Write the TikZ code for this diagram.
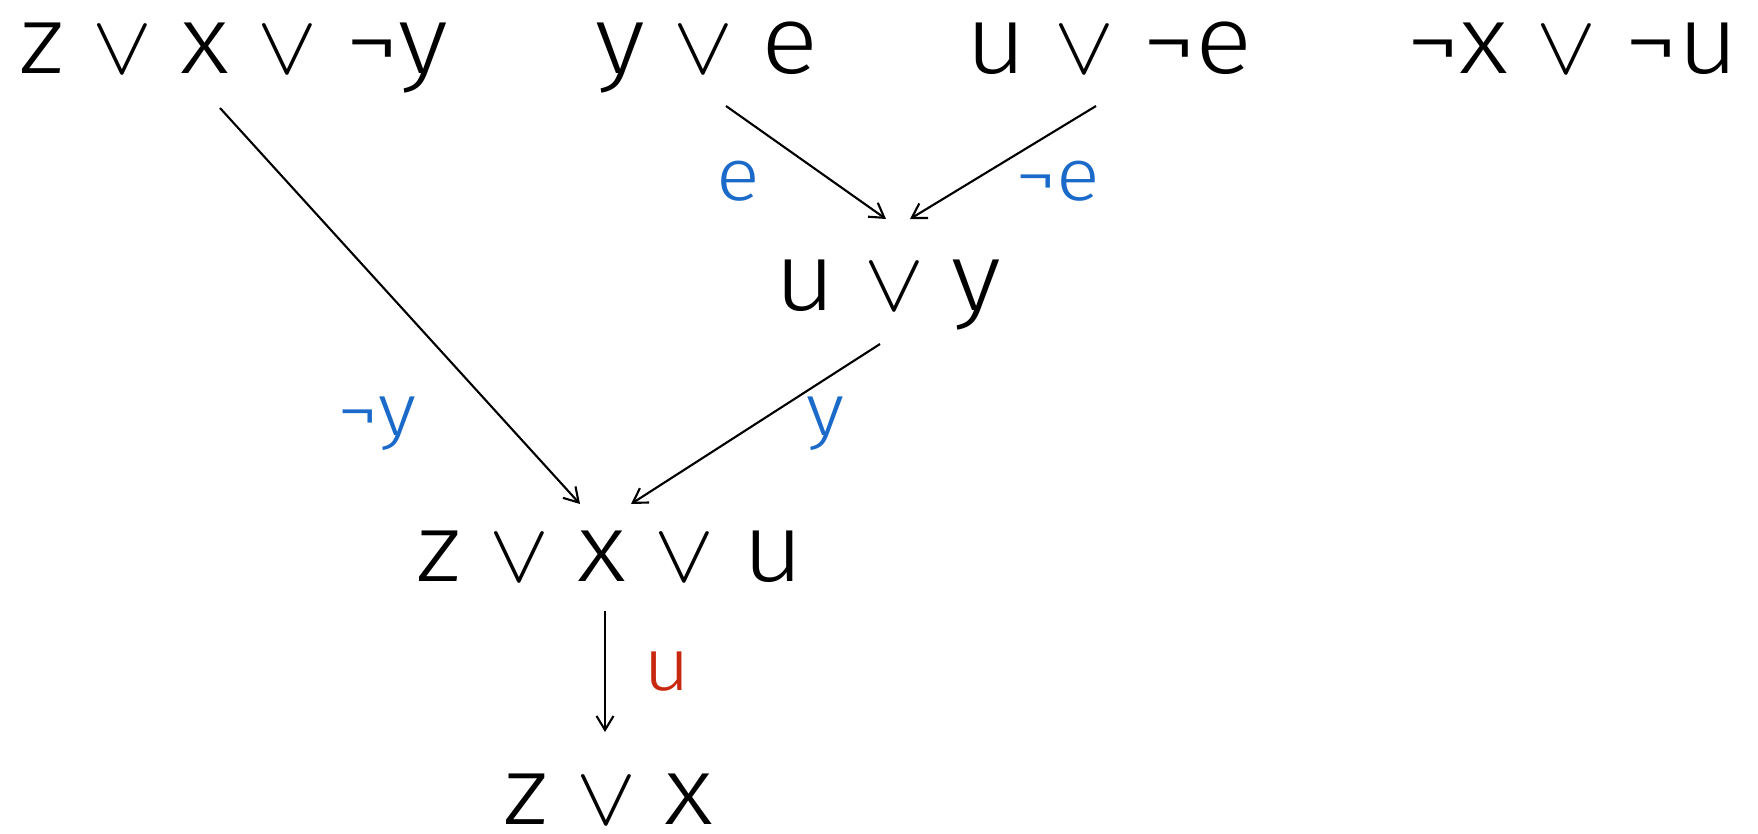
\RequirePackage{fix-cm}
\documentclass[tikz,border=0pt]{standalone}
\usepackage{fontspec}
\setmainfont{Fira Sans Light}[FakeStretch=1.1]
\usepackage{xcolor}
\usepackage{graphicx}
\usetikzlibrary{arrows.meta}
\definecolor{litblue}{HTML}{1B6AC9}
\definecolor{litred}{HTML}{C8280F}
\newcommand{\vor}{\hspace{8pt}\resizebox{17pt}{13.2pt}{$\vee$}\hspace{8pt}}
\tikzset{
  clause/.style={font=\fontsize{27.5}{32}\selectfont,inner sep=0pt,anchor=base,text height=15pt},
  pivot/.style={font=\fontsize{21}{25}\selectfont,text=litblue,inner sep=0pt,anchor=base},
  pivotred/.style={pivot,text=litred},
  res/.style={-{Straight Barb[length=1.4mm,width=1.7mm]},line width=0.6pt}
}

\begin{document}
\begin{tikzpicture}[x=0.01cm,y=-0.01cm]
  \useasboundingbox (0,0) rectangle (1758,833);
  % input clauses
  \node[clause] (c1) at (234,73) {z\vor{}x\vor{}¬y};
  \node[clause] (c2) at (707,73) {y\vor{}e};
  \node[clause] (c3) at (1109,73) {u\vor{}¬e};
  \node[clause] (c4) at (1573,73) {¬x\vor{}¬u};
  % resolvents
  \node[clause] (r1) at (888,310) {u\vor{}y};
  \node[clause] (r2) at (610,581) {z\vor{}x\vor{}u};
  \node[clause] (r3) at (608,824) {z\vor{}x};
  % pivots
  \node[pivot] (p1) at (738,200) {e};
  \node[pivot] (p2) at (1058,200) {¬e};
  \node[pivot] (p3) at (377,435) {¬y};
  \node[pivot] (p4) at (825,435) {y};
  \node[pivotred] (p5) at (667,690) {u};
  \draw[res] ([shift={(19,33)}]c2.base) -- ([shift={(-2,-91)}]r1.base);
  \draw[res] ([shift={(-13,33)}]c3.base) -- ([shift={(22,-91)}]r1.base);
  \draw[res] ([shift={(-14,35)}]c1.base) -- ([shift={(-30,-77)}]r2.base);
  \draw[res] ([shift={(-8,34)}]r1.base) -- ([shift={(21,-77)}]r2.base);
  \draw[res] ([shift={(-5,30)}]r2.base) -- ([shift={(-3,-92)}]r3.base);
\end{tikzpicture}
\end{document}
